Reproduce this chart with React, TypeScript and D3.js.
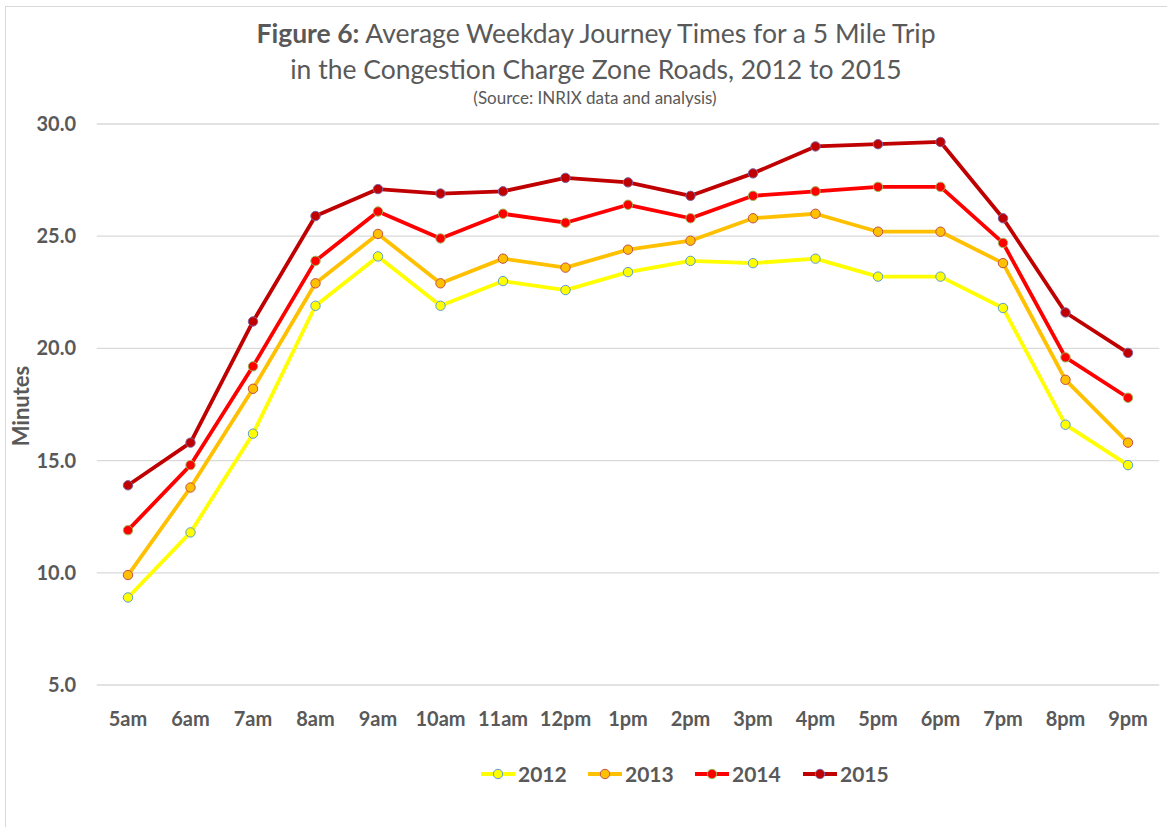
import React from "react";
import * as d3 from "d3";

const categories = ["5am","6am","7am","8am","9am","10am","11am","12pm","1pm","2pm","3pm","4pm","5pm","6pm","7pm","8pm","9pm"];
const s2012 = [8.9,11.8,16.2,21.9,24.1,21.9,23.0,22.6,23.4,23.9,23.8,24.0,23.2,23.2,21.8,16.6,14.8];
const s2013 = [9.9,13.8,18.2,22.9,25.1,22.9,24.0,23.6,24.4,24.8,25.8,26.0,25.2,25.2,23.8,18.6,15.8];
const s2014 = [11.9,14.8,19.2,23.9,26.1,24.9,26.0,25.6,26.4,25.8,26.8,27.0,27.2,27.2,24.7,19.6,17.8];
const s2015 = [13.9,15.8,21.2,25.9,27.1,26.9,27.0,27.6,27.4,26.8,27.8,29.0,29.1,29.2,25.8,21.6,19.8];
const yTicks = [5,10,15,20,25,30];
const seriesNames = ["2012","2013","2014","2015"];

const styles = [
  { line: "#FFFF00", fill: "#FFFF00", stroke: "#5B9BD5" },
  { line: "#FFC000", fill: "#FFC000", stroke: "#C0504D" },
  { line: "#FF0000", fill: "#FF0000", stroke: "#9BBB59" },
  { line: "#C00000", fill: "#C00000", stroke: "#8064A2" },
];

export default function App() {
  const W = 1167, H = 827;
  const x = d3.scaleBand<string>().domain(categories).range([96.75, 1159.25]);
  const y = d3.scaleLinear().domain([5, 30]).range([685, 124]);
  const all = [s2012, s2013, s2014, s2015];
  const line = d3.line<number>()
    .x((_, i) => (x(categories[i]) as number) + x.bandwidth() / 2)
    .y((d) => y(d));
  const font = "Lato, 'Open Sans', sans-serif";
  const txt = "#595959";
  const legendX = [481, 588, 695, 803];
  return (
    <svg width={W} height={H} style={{ position: "absolute", left: 0, top: 0, background: "#fff" }} fontFamily={font}>
      <rect x={5.5} y={6.5} width={W + 10} height={H + 10} fill="#fff" stroke="#D9D9D9" strokeWidth={1} />
      <text x={596} y={43} textAnchor="middle" fontSize={26.5} fill={txt}>
        <tspan fontWeight="bold">Figure 6:</tspan> Average Weekday Journey Times for a 5 Mile Trip
      </text>
      <text x={596} y={79} textAnchor="middle" fontSize={26.5} fill={txt}>
        in the Congestion Charge Zone Roads, 2012 to 2015
      </text>
      <text x={595} y={104} textAnchor="middle" fontSize={17} fill={txt}>
        (Source: INRIX data and analysis)
      </text>
      {yTicks.map((t) => (
        <g key={t}>
          <line x1={96.75} x2={1159.25} y1={y(t)} y2={y(t)} stroke="#D9D9D9" strokeWidth={1.3} />
          <text x={76} y={y(t) + 7} textAnchor="end" fontSize={20} fontWeight="bold" fill={txt}>
            {t.toFixed(1)}
          </text>
        </g>
      ))}
      {categories.map((c) => (
        <text key={c} x={(x(c) as number) + x.bandwidth() / 2} y={726} textAnchor="middle" fontSize={20} fontWeight="bold" fill={txt}>
          {c}
        </text>
      ))}
      <text transform="translate(29,406) rotate(-90)" textAnchor="middle" fontSize={22} fontWeight="bold" fill={txt}>
        Minutes
      </text>
      {all.map((s, si) => (
        <g key={si}>
          <path d={line(s) || ""} fill="none" stroke={styles[si].line} strokeWidth={3.8} strokeLinejoin="round" />
          {s.map((v, i) => (
            <circle key={i} cx={(x(categories[i]) as number) + x.bandwidth() / 2} cy={y(v)} r={4.7}
              fill={styles[si].fill} stroke={styles[si].stroke} strokeWidth={1} />
          ))}
        </g>
      ))}
      {seriesNames.map((n, i) => (
        <g key={n}>
          <line x1={legendX[i]} x2={legendX[i] + 34} y1={774} y2={774} stroke={styles[i].line} strokeWidth={3.8} />
          <circle cx={legendX[i] + 17} cy={774} r={4.7} fill={styles[i].fill} stroke={styles[i].stroke} strokeWidth={1} />
          <text x={legendX[i] + 37} y={782} fontSize={21} fontWeight="bold" fill={txt}>{n}</text>
        </g>
      ))}
    </svg>
  );
}
